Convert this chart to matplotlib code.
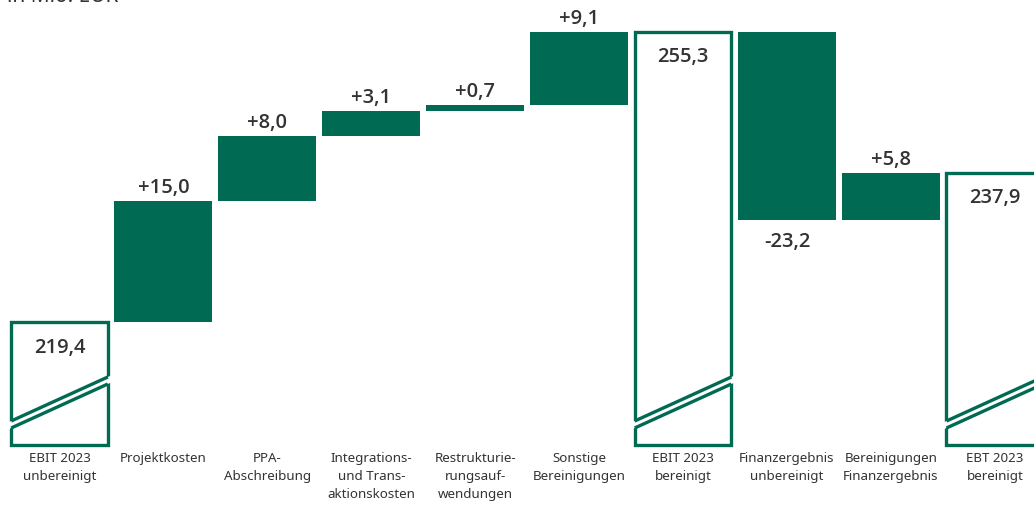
import numpy as np
import matplotlib
matplotlib.use("Agg")
import matplotlib.pyplot as plt
from matplotlib.patches import Rectangle, Polygon

plt.rcParams['font.family'] = ['Noto Sans', 'DejaVu Sans']

# data (Mio. EUR)
categories = ["EBIT 2023\nunbereinigt", "Projektkosten", "PPA-\nAbschreibung",
              "Integrations-\nund Trans-\naktionskosten", "Restrukturie-\nrungsauf-\nwendungen",
              "Sonstige\nBereinigungen", "EBIT 2023\nbereinigt", "Finanzergebnis\nunbereinigt",
              "Bereinigungen\nFinanzergebnis", "EBT 2023\nbereinigt"]
values = [219.4, 15.0, 8.0, 3.1, 0.7, 9.1, 255.3, -23.2, 5.8, 237.9]
is_total = [True, False, False, False, False, False, True, False, False, True]

green = "#006a53"
text_col = "#333333"
val_font = dict(fontsize=14.5, fontweight="semibold", family=["Open Sans", "DejaVu Sans"],
                color=text_col)

fig = plt.figure(figsize=(10.34, 5.14), dpi=100)
ax = fig.add_axes([0, 69 / 514, 1, 445 / 514])

y_lo, y_hi = 204.24, 259.23
ax.set_ylim(y_lo, y_hi)
ax.set_xlim(-0.5725, 9.377)
px = (y_hi - y_lo) / 445  # data units per pixel

w = 0.943
wt = 0.93
run = 0.0
for i, v in enumerate(values):
    if is_total[i]:
        run = v
        ax.add_patch(Rectangle((i - wt / 2, y_lo), wt, v - y_lo, facecolor="white",
                               edgecolor=green, lw=2.4, zorder=2, clip_on=False))
        # axis break
        xl, xr = i - wt / 2, i + wt / 2
        up = (y_lo + 24 * px, y_lo + 68 * px)
        dn = (y_lo + 17 * px, y_lo + 61 * px)
        slope = (up[1] - up[0]) / wt
        e = 0.03
        poly = [(xl - e, up[0] - slope * e), (xr + e, up[1] + slope * e),
                (xr + e, dn[1] + slope * e), (xl - e, dn[0] - slope * e)]
        ax.add_patch(Polygon(poly, closed=True, facecolor="white", edgecolor="none",
                             zorder=3, clip_on=False))
        ax.plot([xl, xr], [up[0], up[1]], color=green, lw=2.4, solid_capstyle="butt",
                zorder=4, clip_on=False)
        ax.plot([xl, xr], [dn[0], dn[1]], color=green, lw=2.4, solid_capstyle="butt",
                zorder=4, clip_on=False)
        ax.annotate(f"{v:.1f}".replace(".", ","), (i, v), xytext=(0, -30.5 * 0.72),
                    textcoords="offset points", ha="center", va="baseline",
                    zorder=5, **val_font)
    else:
        lo, hi = sorted([run, run + v])
        ax.bar(i, hi - lo, bottom=lo, width=w, color=green, zorder=2)
        lab = f"{v:+.1f}".replace(".", ",")
        if v >= 0:
            ax.annotate(lab, (i, hi), xytext=(0, 8 * 0.72), textcoords="offset points",
                        ha="center", va="baseline", **val_font)
        else:
            ax.annotate(lab, (i, lo), xytext=(0, -27 * 0.72), textcoords="offset points",
                        ha="center", va="baseline", **val_font)
        run += v

ax.set_xticks(range(len(categories)), categories)
ax.tick_params(axis="x", length=0, pad=5, labelsize=9.6, labelcolor=text_col)
for t in ax.get_xticklabels():
    t.set_linespacing(1.5)
ax.set_yticks([])
for s in ax.spines.values():
    s.set_visible(False)

fig.text(7 / 1034, 1 - 2 / 514, "in Mio. EUR", ha="left", va="baseline",
         fontsize=15, color=text_col)

fig.savefig("out.png", dpi=100)
